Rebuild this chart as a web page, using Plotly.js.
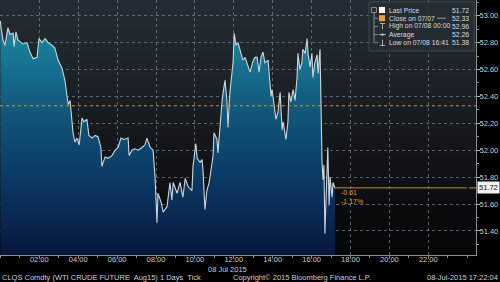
<!DOCTYPE html>
<html>
<head>
<meta charset="utf-8">
<script src="https://cdn.plot.ly/plotly-3.0.1.min.js"></script>
<style>
html,body{margin:0;padding:0;background:#000;overflow:hidden;}
#bg{position:absolute;left:0;top:0;width:476px;height:255px;background:linear-gradient(180deg,#252d34 0%,#171c21 45%,#0a0c10 80%,#060709 100%);}
#chart{position:absolute;left:0;top:0;width:500px;height:282px;}
</style>
</head>
<body>
<div id="bg"></div>
<div id="chart"></div>
<script>
const day = '2015-07-08';
const times = ['00:00','00:02','00:08','00:14','00:23','00:30','00:39','00:42','00:48','00:54','01:04','01:10','01:22','01:31','01:41','01:53','01:59','02:08','02:18','02:27','02:39','02:48','02:58','03:10','03:19','03:26','03:29','03:35','03:41','03:44','03:50','03:56','04:03','04:12','04:18','04:27','04:33','04:43','04:52','05:01','05:10','05:13','05:23','05:32','05:44','05:54','06:03','06:12','06:21','06:34','06:37','06:46','06:55','07:05','07:17','07:26','07:32','07:42','07:51','07:57','08:03','08:06','08:16','08:22','08:34','08:43','08:49','08:53','09:05','09:14','09:23','09:30','09:39','09:51','09:54','10:03','10:07','10:16','10:22','10:25','10:31','10:37','10:44','10:56','10:59','11:08','11:11','11:18','11:24','11:27','11:33','11:39','11:42','11:48','11:58','12:01','12:07','12:13','12:22','12:28','12:35','12:41','12:50','12:59','13:05','13:12','13:18','13:24','13:30','13:36','13:46','13:49','13:55','13:58','14:04','14:10','14:16','14:23','14:29','14:32','14:41','14:47','14:50','14:56','15:03','15:09','15:15','15:18','15:24','15:30','15:33','15:40','15:46','15:49','15:55','16:01','16:04','16:10','16:17','16:20','16:26','16:29','16:32','16:35','16:38','16:41','16:44','16:47','16:50','16:54','16:57','17:03','17:06','17:12'];
const prices = [52.96,52.91,52.82,52.78,52.91,52.86,52.87,52.77,52.88,52.82,52.80,52.79,52.80,52.73,52.68,52.69,52.83,52.80,52.83,52.80,52.78,52.76,52.67,52.61,52.52,52.37,52.34,52.37,52.23,52.13,52.06,52.09,52.04,52.24,52.21,52.23,52.11,52.09,52.11,52.10,52.02,51.88,51.95,51.94,51.96,52.00,52.02,52.09,52.08,52.09,51.96,52.00,52.01,52.00,52.02,52.04,52.09,52.02,52.00,51.80,51.46,51.68,51.61,51.54,51.58,51.76,51.63,51.76,51.68,51.76,51.65,51.79,51.73,51.70,51.88,52.05,51.94,51.91,51.93,51.85,51.56,51.70,51.76,51.96,52.13,52.08,51.98,52.23,52.37,52.43,52.52,52.36,52.17,52.43,52.66,52.87,52.78,52.80,52.72,52.67,52.69,52.65,52.58,52.66,52.69,52.69,52.58,52.69,52.73,52.65,52.67,52.57,52.40,52.45,52.32,52.23,52.28,52.43,52.15,52.21,52.08,52.21,52.43,52.36,52.45,52.37,52.54,52.72,52.60,52.65,52.75,52.72,52.83,52.72,52.62,52.72,52.54,52.65,52.71,52.57,52.75,52.15,51.93,51.78,51.89,51.38,51.63,51.73,52.02,51.59,51.80,51.65,51.76,51.72];
const xTickTimes = ['02:00','04:00','06:00','08:00','10:00','12:00','14:00','16:00','18:00','20:00','22:00'];
const lastPrice = 51.72;
const prevClose = 52.33;
const netChange = '-0.61';
const pctChange = '-1.17%';
const legendLabels = ['Last Price','Close on 07/07','High on 07/08 00:00','Average','Low on 07/08 16:41'];
const legendValues = ['51.72','52.33','52.96','52.26','51.38'];
const footerLeft = 'CLQS Comdty (WTI CRUDE FUTURE  Aug15) 1 Days  Tick';
const footerMid = 'Copyright\u00a9 2015 Bloomberg Finance L.P.';
const footerRight = '08-Jul-2015 17:22:04';
const dateLabel = '08 Jul 2015';

const X = times.map(t => day + ' ' + t);
const W = 476, H = 255;
const px = x => x / W;
const py = y => 1 - y / H;
const FONT = 'Liberation Sans, Arial, sans-serif';
const txt = '#c9cdd1';

const trace = {
  type: 'scatter', mode: 'lines', x: X, y: prices,
  line: {color: '#cfd4d9', width: 1.1},
  fill: 'tozeroy',
  fillgradient: {type: 'vertical', start: 51.22, stop: 53.0,
    colorscale: [[0, '#07163f'], [0.3, '#0b3761'], [0.65, '#125d7f'], [1, '#1f8da8']]},
  hoverinfo: 'skip'
};

const shapes = [
  {type: 'line', xref: 'paper', yref: 'y', x0: 0, x1: 1, y0: prevClose, y1: prevClose,
   line: {color: '#d8922e', width: 1, dash: 'dot'}},
  {type: 'line', xref: 'x', yref: 'y', x0: X[X.length - 1], x1: day + ' 23:59', y0: lastPrice, y1: lastPrice,
   line: {color: '#c98a3e', width: 1}},
  {type: 'line', xref: 'paper', yref: 'y', x0: 0.985, x1: 1, y0: lastPrice, y1: lastPrice,
   line: {color: '#c98a3e', width: 1}},
  {type: 'rect', xref: 'paper', yref: 'paper', x0: px(369), x1: px(474), y0: py(51), y1: py(2),
   fillcolor: 'rgba(38,44,50,0.92)', line: {color: '#3e464e', width: 1}},
  {type: 'rect', xref: 'paper', yref: 'paper', x0: px(371.5), x1: px(376.5), y0: py(12.5), y1: py(7.5),
   line: {color: '#9aa0a6', width: 0.8}},
  {type: 'line', xref: 'paper', yref: 'paper', x0: px(374), x1: px(374), y0: py(12.5), y1: py(42.8),
   line: {color: '#9aa0a6', width: 0.8}},
  {type: 'rect', xref: 'paper', yref: 'paper', x0: px(379), x1: px(385), y0: py(13), y1: py(7),
   fillcolor: '#ffffff', line: {width: 0}},
  {type: 'rect', xref: 'paper', yref: 'paper', x0: px(379), x1: px(385), y0: py(21.2), y1: py(15.2),
   fillcolor: '#f0a028', line: {width: 0}},
  {type: 'line', xref: 'paper', yref: 'paper', x0: px(380), x1: px(385), y0: py(23.5), y1: py(23.5),
   line: {color: '#c9cdd1', width: 0.8}},
  {type: 'line', xref: 'paper', yref: 'paper', x0: px(382.5), x1: px(382.5), y0: py(23.5), y1: py(29.3),
   line: {color: '#c9cdd1', width: 0.8}},
  {type: 'line', xref: 'paper', yref: 'paper', x0: px(379), x1: px(386), y0: py(34.6), y1: py(34.6),
   line: {color: '#c9cdd1', width: 0.8}},
  {type: 'rect', xref: 'paper', yref: 'paper', x0: px(381.5), x1: px(383.5), y0: py(35.6), y1: py(33.6),
   fillcolor: '#c9cdd1', line: {width: 0}},
  {type: 'line', xref: 'paper', yref: 'paper', x0: px(382.5), x1: px(382.5), y0: py(39.8), y1: py(45.5),
   line: {color: '#c9cdd1', width: 0.8}},
  {type: 'line', xref: 'paper', yref: 'paper', x0: px(380), x1: px(385), y0: py(45.5), y1: py(45.5),
   line: {color: '#c9cdd1', width: 0.8}},
  {type: 'line', xref: 'paper', yref: 'paper', x0: px(437), x1: px(453), y0: py(18.2), y1: py(18.2),
   line: {color: '#b8bcc0', width: 0.8, dash: 'dash'}}
];
[18.2, 26.4, 34.6, 42.8].forEach(y => shapes.push({type: 'line', xref: 'paper', yref: 'paper',
  x0: px(374), x1: px(378), y0: py(y), y1: py(y), line: {color: '#9aa0a6', width: 0.8}}));

const rowY = [10.2, 18.2, 26.4, 34.6, 42.8];
const annotations = [];
legendLabels.forEach((l, i) => {
  annotations.push({xref: 'paper', yref: 'paper', x: px(386.5), y: py(rowY[i]), xanchor: 'left', yanchor: 'middle',
    text: l, showarrow: false, font: {family: FONT, size: 6.8, color: '#d6dade'}});
  annotations.push({xref: 'paper', yref: 'paper', x: px(471), y: py(rowY[i]), xanchor: 'right', yanchor: 'middle',
    text: legendValues[i], showarrow: false, font: {family: FONT, size: 6.8, color: '#d6dade'}});
});
annotations.push(
  {xref: 'paper', yref: 'y', x: 1.003, y: lastPrice, xanchor: 'left', yanchor: 'middle', text: lastPrice.toFixed(2),
   showarrow: false, bgcolor: '#f2f2f2', borderpad: 1, font: {family: FONT, size: 7.5, color: '#111'}},
  {xref: 'paper', yref: 'paper', x: px(339), y: py(192.5), xanchor: 'left', yanchor: 'middle', text: netChange,
   showarrow: false, font: {family: FONT, size: 7, color: '#e29a3c'}},
  {xref: 'paper', yref: 'paper', x: px(339), y: py(201), xanchor: 'left', yanchor: 'middle', text: pctChange,
   showarrow: false, font: {family: FONT, size: 7, color: '#e29a3c'}},
  {xref: 'paper', yref: 'paper', x: px(227), y: py(269), xanchor: 'center', yanchor: 'middle', text: dateLabel,
   showarrow: false, font: {family: FONT, size: 7.5, color: txt}},
  {xref: 'paper', yref: 'paper', x: 0, y: py(277), xanchor: 'left', yanchor: 'middle', text: footerLeft,
   showarrow: false, font: {family: FONT, size: 7.5, color: txt}},
  {xref: 'paper', yref: 'paper', x: px(301.5), y: py(277), xanchor: 'center', yanchor: 'middle', text: footerMid,
   showarrow: false, font: {family: FONT, size: 7.5, color: txt}},
  {xref: 'paper', yref: 'paper', x: px(500), y: py(277), xanchor: 'right', yanchor: 'middle', text: footerRight,
   showarrow: false, font: {family: FONT, size: 7.5, color: txt}}
);

const layout = {
  width: 500, height: 282,
  margin: {l: 0, r: 24, t: 0, b: 27, pad: 0},
  paper_bgcolor: 'rgba(0,0,0,0)', plot_bgcolor: 'rgba(0,0,0,0)',
  showlegend: false,
  font: {family: FONT, size: 7.5, color: txt},
  xaxis: {
    type: 'date',
    range: ['2015-07-07 23:58:46', '2015-07-09 00:27:07'],
    tickmode: 'array', tickvals: xTickTimes.map(t => day + ' ' + t), ticktext: xTickTimes,
    showgrid: true, gridcolor: 'rgba(150,158,166,0.55)', griddash: 'dot', gridwidth: 1,
    showline: true, linecolor: '#8c9096', linewidth: 1,
    ticks: 'outside', ticklen: 2, tickcolor: '#8c9096',
    minor: {dtick: 3600000, tick0: day + ' 01:00', ticklen: 2, tickcolor: '#8c9096', showgrid: false},
    tickfont: {family: FONT, size: 7.5, color: txt},
    ticklabelstandoff: -5,
    zeroline: false, fixedrange: true
  },
  yaxis: {
    side: 'right',
    range: [51.2208, 53.1167],
    tickmode: 'linear', tick0: 51.0, dtick: 0.2, tickformat: '.2f',
    showgrid: true, gridcolor: 'rgba(150,158,166,0.55)', griddash: 'dot', gridwidth: 1,
    showline: true, linecolor: '#8c9096', linewidth: 1,
    ticks: 'outside', ticklen: 3, tickcolor: '#b0b4b8',
    minor: {dtick: 0.1, ticklen: 2, tickcolor: '#8c9096', showgrid: false},
    tickfont: {family: FONT, size: 7.5, color: txt},
    ticklabelstandoff: -2,
    zeroline: false, fixedrange: true
  },
  shapes: shapes,
  annotations: annotations
};

Plotly.newPlot('chart', [trace], layout, {displayModeBar: false, staticPlot: true});
</script>
</body>
</html>
